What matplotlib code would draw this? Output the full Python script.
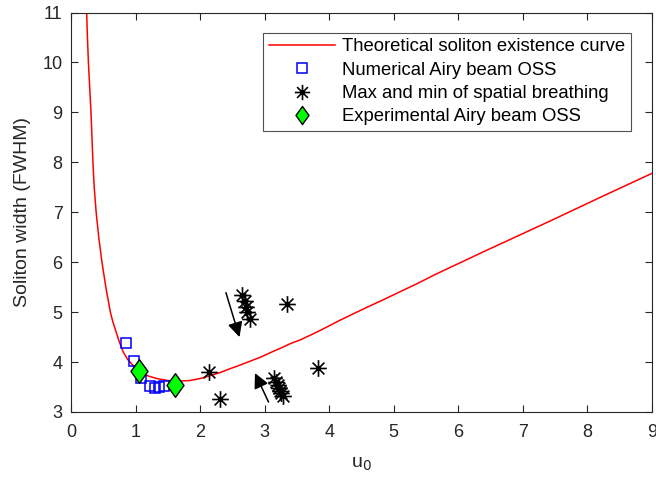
import numpy as np
import matplotlib
matplotlib.use('Agg')
import matplotlib.pyplot as plt
from matplotlib.path import Path

plt.rcParams['font.family'] = ['Liberation Sans', 'DejaVu Sans']

# theoretical soliton existence curve
curve_u = [0.243, 0.255, 0.27, 0.29, 0.31, 0.325, 0.34, 0.36, 0.39, 0.43, 0.48,
           0.54, 0.61, 0.65, 0.70, 0.75, 0.81, 0.88, 0.95, 1.02, 1.10, 1.20,
           1.33, 1.50, 1.69, 1.84, 2.00, 2.16, 2.31, 2.47, 2.62, 2.78, 2.94,
           3.09, 3.25, 3.40, 3.56, 3.71, 3.87, 4.02, 4.17, 4.33, 4.59, 4.84,
           5.10, 5.36, 5.62, 5.88, 6.13, 6.39, 6.81, 7.43, 8.20, 9.0]
curve_w = [11.0, 10.5, 10.0, 9.5, 9.0, 8.5, 8.0, 7.5, 7.0, 6.5, 6.0,
           5.5, 5.0, 4.8, 4.6, 4.4, 4.2, 4.05, 3.95, 3.86, 3.78, 3.72,
           3.67, 3.63, 3.62, 3.63, 3.67, 3.73, 3.79, 3.87, 3.94, 4.02, 4.10,
           4.19, 4.28, 4.37, 4.45, 4.54, 4.64, 4.74, 4.84, 4.94, 5.10, 5.25,
           5.41, 5.57, 5.74, 5.90, 6.05, 6.21, 6.46, 6.83, 7.30, 7.78]

# numerical Airy beam OSS
num_u = [0.86, 0.98, 1.09, 1.22, 1.30, 1.37, 1.44]
num_w = [4.39, 4.02, 3.68, 3.53, 3.49, 3.50, 3.53]

# max and min of spatial breathing
br_u = [2.65, 2.69, 2.71, 2.73, 2.77, 3.35,
        2.14, 2.31, 3.83,
        3.15, 3.18, 3.20, 3.22, 3.24, 3.26, 3.28]
br_w = [5.34, 5.22, 5.10, 5.00, 4.86, 5.17,
        3.80, 3.27, 3.89,
        3.68, 3.60, 3.54, 3.48, 3.43, 3.38, 3.33]

# experimental Airy beam OSS
exp_u = [1.05, 1.61]
exp_w = [3.82, 3.54]

# arrows: (tail u, tail w, tip u, tip w)
arrows = [(2.40, 5.39, 2.61, 4.50),
          (3.06, 3.20, 2.85, 3.78)]

# matlab style 8 spoke asterisk
spokes = []
codes = []
for a in np.arange(4) * np.pi / 4:
    spokes += [(np.cos(a), np.sin(a)), (-np.cos(a), -np.sin(a))]
    codes += [Path.MOVETO, Path.LINETO]
star = Path(spokes, codes)
diamond = Path([(0, 1), (0.72, 0), (0, -1), (-0.72, 0), (0, 1)],
               [Path.MOVETO, Path.LINETO, Path.LINETO, Path.LINETO, Path.CLOSEPOLY])

fig = plt.figure(figsize=(6.56, 4.83), dpi=100)
ax = fig.add_axes([0.1082, 0.147, 0.8857, 0.827])

ax.plot(curve_u, curve_w, color='red', lw=1.1, label='Theoretical soliton existence curve')
ax.plot(num_u, num_w, ls='none', marker='s', ms=7.5, mfc='none', mec='blue', mew=1.1,
        label='Numerical Airy beam OSS')
ax.plot(br_u, br_w, ls='none', marker=star, ms=12, mfc='none', mec='black', mew=1.2,
        label='Max and min of spatial breathing')
ax.plot(exp_u, exp_w, ls='none', marker=diamond, ms=17, mfc='#00ff00', mec='black', mew=1.0,
        label='Experimental Airy beam OSS')

for tu, tw, hu, hw in arrows:
    ax.annotate('', xy=(hu, hw), xytext=(tu, tw),
                arrowprops=dict(arrowstyle='-|>,head_length=0.9,head_width=0.45',
                                color='black', lw=1.1, shrinkA=0, shrinkB=0))

ax.set_xlim(0, 9)
ax.set_ylim(3, 11)
ax.set_xticks(range(0, 10))
ax.set_yticks(range(3, 12))
ax.tick_params(direction='in', top=True, right=True, length=5, width=0.8,
               labelsize=13, colors='#262626')
ax.tick_params(axis='x', pad=9)
ax.tick_params(axis='y', pad=6)
for s in ax.spines.values():
    s.set_color('#262626')
    s.set_linewidth(0.8)

ax.set_xlabel('u$_0$', fontsize=14, color='#262626', labelpad=10)
ax.set_ylabel('Soliton width (FWHM)', fontsize=14, color='#262626', labelpad=8)

leg = ax.legend(loc='upper right', bbox_to_anchor=(0.964, 0.95), fontsize=13.3,
                frameon=True, fancybox=False, edgecolor='#262626', handlelength=3.6,
                handletextpad=0.4, labelspacing=0.35, borderpad=0.3, borderaxespad=0)
leg.get_frame().set_linewidth(0.8)
leg.legend_handles[1].set_markersize(7)
leg.legend_handles[2].set_markersize(11)
leg.legend_handles[3].set_markersize(13)

fig.savefig('out.png', dpi=100)
